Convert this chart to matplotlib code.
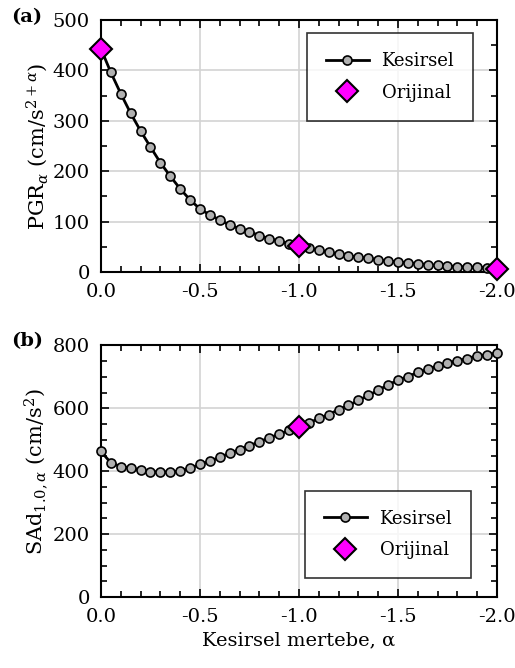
import numpy as np
import matplotlib
matplotlib.use("Agg")
from matplotlib import pyplot as plt
from matplotlib.ticker import MultipleLocator

# fractional order alpha, step 0.05 from 0 to -2
alpha = [0.00, -0.05, -0.10, -0.15, -0.20, -0.25, -0.30, -0.35, -0.40, -0.45,
         -0.50, -0.55, -0.60, -0.65, -0.70, -0.75, -0.80, -0.85, -0.90, -0.95,
         -1.00, -1.05, -1.10, -1.15, -1.20, -1.25, -1.30, -1.35, -1.40, -1.45,
         -1.50, -1.55, -1.60, -1.65, -1.70, -1.75, -1.80, -1.85, -1.90, -1.95,
         -2.00]

pgr = [443, 396, 354, 315, 280, 248, 217, 190, 165, 143,
       125, 113, 103, 93, 86, 80, 72, 66, 61, 56,
       52, 47, 43, 39, 35, 32, 29, 27, 24, 22,
       20, 18, 16.5, 14.5, 13, 12, 10.5, 10, 9, 8.5,
       6.5]

sad = [463, 427, 415, 410, 403, 399, 398, 398, 400, 410,
       422, 432, 445, 457, 469, 481, 494, 506, 518, 530,
       540, 553, 568, 580, 596, 609, 625, 641, 657, 675,
       689, 701, 714, 724, 735, 744, 751, 758, 767, 770,
       776]

orig_alpha_a = [0.0, -1.0, -2.0]
orig_pgr = [443, 52, 6.5]
orig_alpha_b = [-1.0]
orig_sad = [540]

plt.rcParams['font.family'] = 'DejaVu Serif'
plt.rcParams['mathtext.fontset'] = 'dejavuserif'
plt.rcParams['font.size'] = 14

fig = plt.figure(figsize=(5.15, 6.68), dpi=100)
ax1 = fig.add_axes([0.196, 0.593, 0.769, 0.377])
ax2 = fig.add_axes([0.196, 0.106, 0.769, 0.377])

def style(ax, ymax, ymajor):
    ax.set_xlim(0, -2)
    ax.set_ylim(0, ymax)
    ax.xaxis.set_major_locator(MultipleLocator(0.5))
    ax.xaxis.set_minor_locator(MultipleLocator(0.1))
    ax.yaxis.set_major_locator(MultipleLocator(ymajor))
    ax.yaxis.set_minor_locator(MultipleLocator(50))
    ax.xaxis.set_major_formatter(matplotlib.ticker.FormatStrFormatter('%.1f'))
    ax.tick_params(which='both', direction='in', top=True, right=True, width=1.2)
    ax.tick_params(which='major', length=6, pad=8)
    ax.tick_params(which='minor', length=4)
    ax.grid(True, which='major', color='#d3d3d3', lw=1.2)
    ax.set_axisbelow(True)
    for s in ax.spines.values():
        s.set_linewidth(1.5)

def draw(ax, y, ox, oy, anchor, loc):
    ax.plot(alpha, y, '-o', color='black', lw=2, ms=6.5,
            mfc='#b0b0b0', mec='black', mew=1.2, label='Kesirsel', clip_on=False, zorder=3)
    ax.plot(ox, oy, 'D', ms=11, mfc='magenta', mec='black', mew=1.5,
            label='Orijinal', clip_on=False, zorder=4, ls='none')
    leg = ax.legend(loc=loc, bbox_to_anchor=anchor, fancybox=False, edgecolor='black',
                    fontsize=13, borderpad=1.05, handlelength=2.4, labelspacing=0.75,
                    handletextpad=0.7, borderaxespad=0)
    leg.get_frame().set_linewidth(1.2)

style(ax1, 500, 100)
draw(ax1, pgr, orig_alpha_a, orig_pgr, (0.94, 0.948), 'upper right')
ax1.set_ylabel(r'PGR$_\alpha$ (cm/s$^{2+\alpha}$)', fontsize=15, labelpad=2)

style(ax2, 800, 200)
draw(ax2, sad, orig_alpha_b, orig_sad, (0.935, 0.075), 'lower right')
ax2.set_ylabel(r'SAd$_{1.0,\alpha}$ (cm/s$^{2}$)', fontsize=15, labelpad=2)
ax2.set_xlabel('Kesirsel mertebe, α', fontsize=14, labelpad=4)

fig.text(0.022, 0.975, '(a)', fontsize=14, fontweight='bold', va='center')
fig.text(0.022, 0.49, '(b)', fontsize=14, fontweight='bold', va='center')

fig.savefig('out.png', dpi=100)
